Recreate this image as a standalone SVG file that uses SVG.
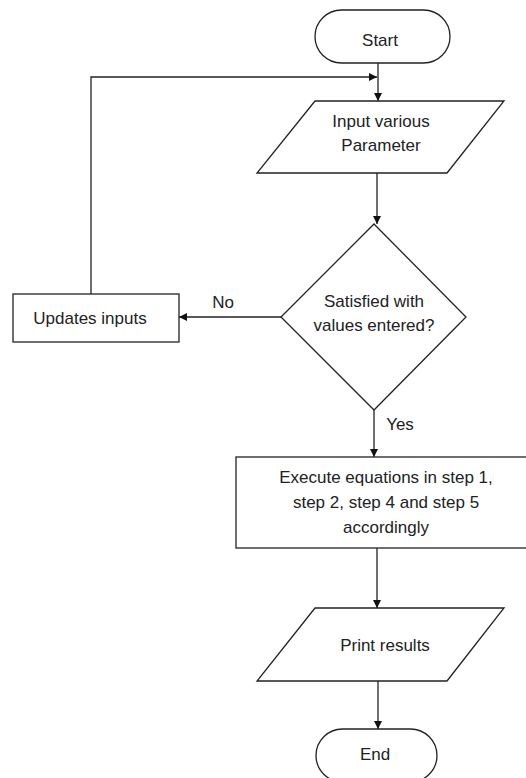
<svg xmlns="http://www.w3.org/2000/svg" width="526" height="778" viewBox="0 0 526 778">
<style>
.shape{fill:#fff;stroke:#222;stroke-width:1.3}
.conn{fill:none;stroke:#222;stroke-width:1.3}
text{font-family:"Liberation Sans",Arial,sans-serif;font-size:17px;fill:#222;text-anchor:middle}
</style>
<defs>
<marker id="arr" viewBox="0 0 10 10" refX="10" refY="5" markerWidth="8" markerHeight="8" markerUnits="userSpaceOnUse" orient="auto">
<path d="M0,0 L10,5 L0,10 Z" fill="#111"/>
</marker>
</defs>
<rect width="526" height="778" fill="#fff"/>
<g id="connectors">
<line class="conn" x1="378" y1="63" x2="378" y2="101" marker-end="url(#arr)"/>
<line class="conn" x1="377" y1="173" x2="377" y2="224" marker-end="url(#arr)"/>
<line class="conn" x1="281" y1="317" x2="179" y2="317" marker-end="url(#arr)"/>
<text x="223" y="308">No</text>
<polyline class="conn" points="91,294 91,77 377,77" marker-end="url(#arr)"/>
<line class="conn" x1="374" y1="410" x2="374" y2="457" marker-end="url(#arr)"/>
<text x="400" y="430">Yes</text>
<line class="conn" x1="377" y1="548" x2="377" y2="608" marker-end="url(#arr)"/>
<line class="conn" x1="378" y1="681" x2="378" y2="729" marker-end="url(#arr)"/>
</g>
<g id="start">
<rect class="shape" x="315" y="10" width="135" height="53" rx="26.5" ry="26.5"/>
<text x="380" y="46">Start</text>
</g>
<g id="input">
<polygon class="shape" points="315,101 504,101 447,173 257,173"/>
<text x="381" y="127">Input various</text>
<text x="381" y="151">Parameter</text>
</g>
<g id="decision">
<polygon class="shape" points="374,224 466,317 374,410 281,317"/>
<text x="374" y="307">Satisfied with</text>
<text x="374" y="331">values entered?</text>
</g>
<g id="update">
<rect class="shape" x="13" y="294" width="166" height="48"/>
<text x="90" y="324">Updates inputs</text>
</g>
<g id="execute">
<rect class="shape" x="236" y="457" width="300" height="91"/>
<text x="386" y="483">Execute equations in step 1,</text>
<text x="386" y="508">step 2, step 4 and step 5</text>
<text x="386" y="533">accordingly</text>
</g>
<g id="print">
<polygon class="shape" points="315,608 504,608 447,681 257,681"/>
<text x="385" y="651">Print results</text>
</g>
<g id="end">
<rect class="shape" x="316" y="729" width="121" height="53" rx="26.5" ry="26.5"/>
<text x="375" y="760">End</text>
</g>
</svg>
